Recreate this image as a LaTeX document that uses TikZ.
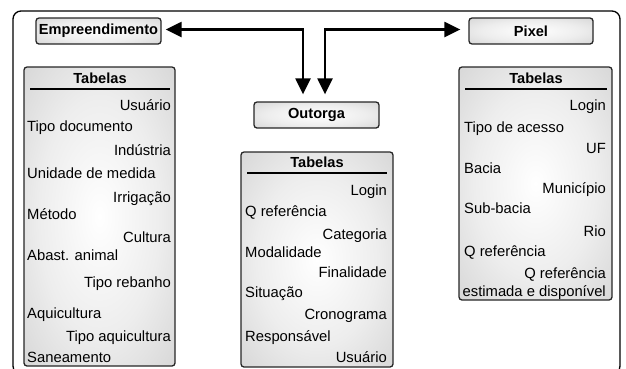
\documentclass[tikz,border=0pt]{standalone}
\usepackage{fontspec}
\setmainfont{Liberation Sans}
\usetikzlibrary{arrows.meta,calc}
\pgfdeclareradialshading{boxshade}{\pgfpoint{0bp}{0bp}}{color(0bp)=(white); color(20bp)=(white!93!black); color(40bp)=(white!82!black); color(50bp)=(white!72!black)}
\tikzset{
  txt/.style={inner sep=0pt, font=\fontsize{14.8}{17.5}\selectfont},
  bld/.style={inner sep=0pt, font=\fontsize{14.6}{17.5}\selectfont\bfseries},
  hbox/.style={draw=black!85, line width=1.3pt, rounded corners=3pt, shading=boxshade,
    minimum height=26pt, inner sep=0pt, font=\fontsize{14.6}{17.5}\selectfont\bfseries},
  tbox/.style={draw=black!85, line width=1.3pt, rounded corners=3pt, shading=boxshade, inner sep=0pt},
  rule/.style={line width=2pt},
  arr/.style={line width=2.3pt, arrows={Triangle[length=16pt,width=15pt]-Triangle[length=16pt,width=15pt]}},
}
\begin{document}
\begin{tikzpicture}[x=1pt,y=-1pt]
\useasboundingbox (0,0) rectangle (626,368);
\clip (0,0) rectangle (626,368);
% outer frame
\draw[line width=1.3pt, rounded corners=8pt] (13,11) rectangle (620,374);
% header boxes
\node[hbox, minimum width=125pt] (emp) at (98.5,31) {Empreendimento};
\node[hbox, minimum width=124pt] (pix) at (531,31) {Pixel};
\node[hbox, minimum width=125pt] (out) at (316.5,115) {Outorga};
% arrows
\draw[arr] ($(out.north)+(-13.5,-7)$) |- ($(emp.east)+(4,-1.5)$);
\draw[arr] ($(out.north)+(8.5,-7)$) |- ($(pix.west)+(-8,-1.5)$);
% tables
\node[tbox, minimum width=151pt, minimum height=299pt] (t1) at (99.5,216.5) {};
\node[tbox, minimum width=152pt, minimum height=215pt] (t2) at (317,259.5) {};
\node[tbox, minimum width=153pt, minimum height=233pt] (t3) at (535.5,183.5) {};
% table headers
\node[bld] (h1) at (100,78) {Tabelas};
\node[bld] (h2) at (317,162) {Tabelas};
\node[bld] (h3) at (536,78) {Tabelas};
\draw[rule] (30,89) -- (170,89);
\draw[rule] (247,173) -- (387,173);
\draw[rule] (465,89) -- (607,89);
% left table items
\node[txt, anchor=base east] (a1) at (171,110) {Usuário};
\node[txt, anchor=base west] (a2) at (27,131) {Tipo documento};
\node[txt, anchor=base east] (a3) at (171,155) {Indústria};
\node[txt, anchor=base west] (a4) at (27,178) {Unidade de medida};
\node[txt, anchor=base east] (a5) at (171,202) {Irrigação};
\node[txt, anchor=base west] (a6) at (27,219) {Método};
\node[txt, anchor=base east] (a7) at (171,242) {Cultura};
\node[txt, anchor=base west] (a8) at (27,260) {Abast. animal};
\node[txt, anchor=base east] (a9) at (171,287) {Tipo rebanho};
\node[txt, anchor=base west] (a10) at (27,318) {Aquicultura};
\node[txt, anchor=base east] (a11) at (171,341) {Tipo aquicultura};
\node[txt, anchor=base west] (a12) at (27,362) {Saneamento};
% middle table items
\node[txt, anchor=base east] (b1) at (387,195) {Login};
\node[txt, anchor=base west] (b2) at (245,216) {Q referência};
\node[txt, anchor=base east] (b3) at (387,239) {Categoria};
\node[txt, anchor=base west] (b4) at (245,257) {Modalidade};
\node[txt, anchor=base east] (b5) at (387,277) {Finalidade};
\node[txt, anchor=base west] (b6) at (245,297) {Situação};
\node[txt, anchor=base east] (b7) at (387,319) {Cronograma};
\node[txt, anchor=base west] (b8) at (245,341) {Responsável};
\node[txt, anchor=base east] (b9) at (387,362) {Usuário};
% right table items
\node[txt, anchor=base east] (c1) at (606,110) {Login};
\node[txt, anchor=base west] (c2) at (464,132) {Tipo de acesso};
\node[txt, anchor=base east] (c3) at (606,153) {UF};
\node[txt, anchor=base west] (c4) at (464,173) {Bacia};
\node[txt, anchor=base east] (c5) at (606,193) {Município};
\node[txt, anchor=base west] (c6) at (464,213) {Sub-bacia};
\node[txt, anchor=base east] (c7) at (606,236) {Rio};
\node[txt, anchor=base west] (c8) at (464,256) {Q referência};
\node[txt, anchor=base east] (c9) at (606,278) {Q referência};
\node[txt, anchor=base east] (c10) at (606,296) {estimada e disponível};
\end{tikzpicture}
\end{document}
